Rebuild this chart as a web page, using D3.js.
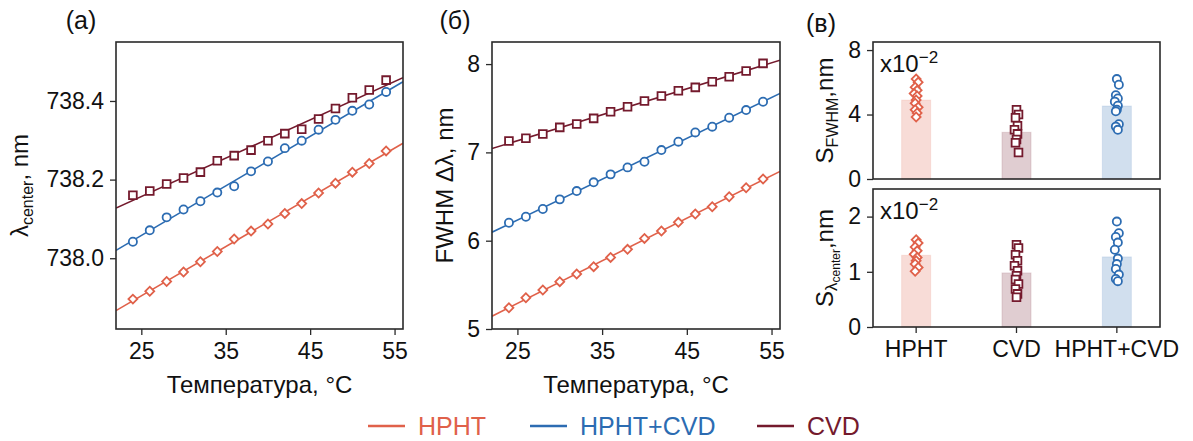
<!DOCTYPE html>
<html>
<head>
<meta charset="utf-8">
<script src="https://cdn.jsdelivr.net/npm/d3@7"></script>
<style>
    body { margin: 0; background: #fff; }
    svg { font-family: "Liberation Sans", Arial, sans-serif; }
</style>
</head>
<body>
<div id="wrapper"></div>
<script>

/* data */
const temperatures = [24, 26, 28, 30, 32, 34, 36, 38, 40, 42, 44, 46, 48, 50, 52, 54]

// (a) line centre, nm
const centerHPHT = [737.896, 737.916, 737.941, 737.965, 737.991, 738.017, 738.049, 738.069,
    738.087, 738.114, 738.139, 738.166, 738.191, 738.219, 738.241, 738.273]
const centerHPHTCVD = [738.042, 738.071, 738.104, 738.124, 738.145, 738.167, 738.183, 738.221,
    738.246, 738.280, 738.299, 738.327, 738.352, 738.375, 738.391, 738.423]
const centerCVD = [738.160, 738.171, 738.189, 738.204, 738.219, 738.248, 738.261, 738.275,
    738.299, 738.317, 738.328, 738.354, 738.381, 738.408, 738.428, 738.453]

// (б) FWHM, nm
const fwhmHPHT = [5.241, 5.354, 5.442, 5.536, 5.623, 5.706, 5.811, 5.902,
    6.026, 6.109, 6.208, 6.302, 6.385, 6.498, 6.600, 6.698]
const fwhmHPHTCVD = [6.203, 6.271, 6.359, 6.468, 6.562, 6.661, 6.751, 6.830,
    6.894, 7.026, 7.121, 7.226, 7.291, 7.393, 7.479, 7.573]
const fwhmCVD = [7.128, 7.159, 7.208, 7.283, 7.321, 7.385, 7.460, 7.517,
    7.581, 7.638, 7.698, 7.736, 7.800, 7.857, 7.921, 8.008]

// (в) sensitivities, x10^-2 nm
const sampleNames = ["HPHT", "CVD", "HPHT+CVD"]
const sFwhmMeans = [4.9, 2.9, 4.53]
const sFwhmHPHT = [6.2, 6.0, 5.7, 5.5, 5.3, 5.15, 4.9, 4.7, 4.45, 4.3, 4.1, 3.85]
const sFwhmCVD = [4.3, 4.0, 3.8, 3.3, 3.05, 2.8, 2.45, 2.25, 1.65]
const sFwhmHPHTCVD = [6.2, 5.85, 5.2, 5.0, 4.8, 4.55, 4.3, 4.2, 3.4, 3.25, 3.05]
const sCenterMeans = [1.3, 0.98, 1.27]
const sCenterHPHT = [1.58, 1.52, 1.45, 1.38, 1.32, 1.26, 1.2, 1.14, 1.08, 1.01]
const sCenterCVD = [1.49, 1.43, 1.31, 1.2, 1.11, 1.02, 0.93, 0.86, 0.78, 0.69, 0.6, 0.54]
const sCenterHPHTCVD = [1.91, 1.7, 1.63, 1.53, 1.4, 1.24, 1.14, 1.05, 0.95, 0.87, 0.83]

const xTicks = [25, 35, 45, 55]

function drawChart() {

    const colors = {
        "HPHT": "#e0614a",
        "HPHT+CVD": "#2c6cb2",
        "CVD": "#741a2d",
    }
    const symbols = {
        "HPHT": "diamond",
        "HPHT+CVD": "circle",
        "CVD": "square",
    }
    const frameColor = "#2a2a2a"
    const tickFont = 23

    const wrapper = d3.select("#wrapper")
        .append("svg")
        .attr("width", 1193)
        .attr("height", 441)

    // marker shapes
    const markerPath = type => {
        if (type === "circle") return d3.symbol(d3.symbolCircle, 52)()
        return d3.symbol(d3.symbolSquare, type === "square" ? 60 : 40)()
    }
    const markerRotate = type => type === "diamond" ? " rotate(45)" : ""

    const drawMarkers = (g, points, series) => {
        g.selectAll(null)
            .data(points)
            .enter().append("path")
            .attr("d", markerPath(symbols[series]))
            .attr("transform", d => `translate(${d[0]},${d[1]})${markerRotate(symbols[series])}`)
            .attr("fill", "#fff")
            .attr("stroke", colors[series])
            .attr("stroke-width", 1.8)
    }

    const styleAxis = (axis) => {
        axis.select(".domain").remove()
        axis.selectAll(".tick line").attr("stroke", frameColor).attr("stroke-width", 1.3)
        axis.selectAll(".tick text")
            .attr("fill", "#111")
            .style("font-size", `${tickFont}px`)
    }

    // least-squares fit through the points of one series
    const linearFit = (xs, ys) => {
        const mx = d3.mean(xs), my = d3.mean(ys)
        const sxy = d3.sum(xs, (x, i) => (x - mx) * (ys[i] - my))
        const sxx = d3.sum(xs, x => (x - mx) ** 2)
        const slope = sxy / sxx
        return x => my + slope * (x - mx)
    }

    /* temperature panels */
    const drawLinePanel = (cfg) => {
        const { left, top, width, height } = cfg
        const bounds = wrapper.append("g")
            .attr("transform", `translate(${left},${top})`)

        const xScale = d3.scaleLinear().domain([22, 56]).range([0, width])
        const yScale = d3.scaleLinear().domain(cfg.yDomain).range([height, 0])

        const clipId = "clip" + cfg.id
        bounds.append("clipPath").attr("id", clipId)
            .append("rect").attr("width", width).attr("height", height)

        cfg.series.forEach(s => {
            const fit = linearFit(temperatures, s.values)
            bounds.append("line")
                .attr("clip-path", `url(#${clipId})`)
                .attr("x1", xScale(22)).attr("y1", yScale(fit(22)))
                .attr("x2", xScale(56)).attr("y2", yScale(fit(56)))
                .attr("stroke", colors[s.name])
                .attr("stroke-width", 1.6)
            drawMarkers(bounds,
                temperatures.map((t, i) => [xScale(t), yScale(s.values[i])]),
                s.name)
        })

        const xAxis = bounds.append("g")
            .attr("transform", `translate(0,${height})`)
            .call(d3.axisBottom(xScale).tickValues(xTicks).tickSize(6).tickPadding(8))
        styleAxis(xAxis)

        const yAxis = bounds.append("g")
            .call(d3.axisLeft(yScale).tickValues(cfg.yTicks).tickFormat(cfg.yFormat)
                .tickSize(6).tickPadding(6))
        styleAxis(yAxis)

        bounds.append("rect")
            .attr("width", width).attr("height", height)
            .attr("fill", "none")
            .attr("stroke", frameColor)
            .attr("stroke-width", 1.6)

        bounds.append("text")
            .attr("x", width / 2)
            .attr("y", height + 64)
            .attr("text-anchor", "middle")
            .attr("fill", "#111")
            .style("font-size", "24px")
            .text("Температура, °C")

        const yLabel = bounds.append("text")
            .attr("transform", `translate(${cfg.yLabelX},${height / 2}) rotate(-90)`)
            .attr("text-anchor", "middle")
            .attr("fill", "#111")
            .style("font-size", "24px")
        cfg.yLabel(yLabel)

        wrapper.append("text")
            .attr("x", left + cfg.tagX)
            .attr("y", 29)
            .attr("text-anchor", "middle")
            .attr("fill", "#111")
            .style("font-size", "25px")
            .text(cfg.tag)
    }

    drawLinePanel({
        id: "a", left: 116, top: 42, width: 287, height: 287,
        yDomain: [737.82, 738.55],
        yTicks: [738.0, 738.2, 738.4],
        yFormat: d3.format(".1f"),
        yLabelX: -88,
        tag: "(a)", tagX: -35,
        series: [
            { name: "HPHT", values: centerHPHT },
            { name: "HPHT+CVD", values: centerHPHTCVD },
            { name: "CVD", values: centerCVD },
        ],
        yLabel: t => {
            t.append("tspan").text("λ")
            t.append("tspan").attr("dy", 5).style("font-size", "16px").text("center")
            t.append("tspan").attr("dy", -5).text(", nm")
        },
    })

    drawLinePanel({
        id: "b", left: 492, top: 42, width: 288, height: 287,
        yDomain: [5, 8.25],
        yTicks: [5, 6, 7, 8],
        yFormat: d3.format("d"),
        yLabelX: -39,
        tag: "(б)", tagX: -37,
        series: [
            { name: "HPHT", values: fwhmHPHT },
            { name: "HPHT+CVD", values: fwhmHPHTCVD },
            { name: "CVD", values: fwhmCVD },
        ],
        yLabel: t => t.text("FWHM Δλ, nm"),
    })

    /* sensitivity panels */
    const drawBarPanel = (cfg) => {
        const { left, top, width, height } = cfg
        const bounds = wrapper.append("g")
            .attr("transform", `translate(${left},${top})`)

        const xScale = d3.scaleBand()
            .domain(sampleNames)
            .range([0, width])
            .paddingInner(0.71)
            .paddingOuter(0.285)
        const yScale = d3.scaleLinear().domain(cfg.yDomain).range([height, 0])

        bounds.selectAll(".bar")
            .data(sampleNames)
            .enter().append("rect")
            .attr("class", "bar")
            .attr("x", d => xScale(d))
            .attr("width", xScale.bandwidth())
            .attr("y", (d, i) => yScale(cfg.means[i]))
            .attr("height", (d, i) => height - yScale(cfg.means[i]))
            .attr("fill", d => colors[d])
            .attr("fill-opacity", 0.22)
            .attr("stroke", d => colors[d])
            .attr("stroke-opacity", 0.12)

        sampleNames.forEach((name, k) => {
            const cx = xScale(name) + xScale.bandwidth() / 2
            const jitter = [0, 2, -1, 1, -2, 1, 0, -1, 2, -1, 1, 0]
            drawMarkers(bounds,
                cfg.points[k].map((v, i) => [cx + jitter[i % jitter.length], yScale(v)]),
                name)
        })

        const yAxis = bounds.append("g")
            .call(d3.axisLeft(yScale).tickValues(cfg.yTicks).tickFormat(d3.format("d"))
                .tickSize(6).tickPadding(6))
        styleAxis(yAxis)

        if (cfg.showCategories) {
            const xAxis = bounds.append("g")
                .attr("transform", `translate(0,${height})`)
                .call(d3.axisBottom(xScale).tickSize(6).tickPadding(8))
            styleAxis(xAxis)
        }

        bounds.append("rect")
            .attr("width", width).attr("height", height)
            .attr("fill", "none")
            .attr("stroke", frameColor)
            .attr("stroke-width", 1.6)

        const scaleNote = bounds.append("text")
            .attr("x", 7)
            .attr("y", 30)
            .attr("fill", "#111")
            .style("font-size", "24px")
        scaleNote.append("tspan").text("x10")
        scaleNote.append("tspan").attr("dy", -9).style("font-size", "17px").text("−2")

        const yLabel = bounds.append("text")
            .attr("transform", `translate(-40,${height / 2}) rotate(-90)`)
            .attr("text-anchor", "middle")
            .attr("fill", "#111")
            .style("font-size", "24px")
        cfg.yLabel(yLabel)
    }

    drawBarPanel({
        left: 873, top: 42, width: 287, height: 137,
        yDomain: [0, 8.5],
        yTicks: [0, 4, 8],
        means: sFwhmMeans,
        points: [sFwhmHPHT, sFwhmCVD, sFwhmHPHTCVD],
        showCategories: false,
        yLabel: t => {
            t.append("tspan").text("S")
            t.append("tspan").attr("dy", 5).style("font-size", "16px").text("FWHM")
            t.append("tspan").attr("dy", -5).text(",nm")
        },
    })

    drawBarPanel({
        left: 873, top: 189, width: 287, height: 138,
        yDomain: [0, 2.5],
        yTicks: [0, 1, 2],
        means: sCenterMeans,
        points: [sCenterHPHT, sCenterCVD, sCenterHPHTCVD],
        showCategories: true,
        yLabel: t => {
            t.append("tspan").text("S")
            t.append("tspan").attr("dy", 4).style("font-size", "17px").text("λ")
            t.append("tspan").attr("dy", 3).style("font-size", "12px").text("center")
            t.append("tspan").attr("dy", -7).text(",nm")
        },
    })

    wrapper.append("text")
        .attr("x", 821)
        .attr("y", 32)
        .attr("text-anchor", "middle")
        .attr("fill", "#111")
        .style("font-size", "25px")
        .text("(в)")

    /* legend */
    const legendItems = [
        { name: "HPHT", x: 368 },
        { name: "HPHT+CVD", x: 530 },
        { name: "CVD", x: 757 },
    ]
    const legend = wrapper.append("g")
    legendItems.forEach(item => {
        legend.append("line")
            .attr("x1", item.x).attr("x2", item.x + 37)
            .attr("y1", 426).attr("y2", 426)
            .attr("stroke", colors[item.name])
            .attr("stroke-width", 2.6)
        legend.append("text")
            .attr("x", item.x + 50)
            .attr("y", 435)
            .attr("fill", colors[item.name])
            .style("font-size", "25px")
            .text(item.name)
    })
}
drawChart()
</script>
</body>
</html>
